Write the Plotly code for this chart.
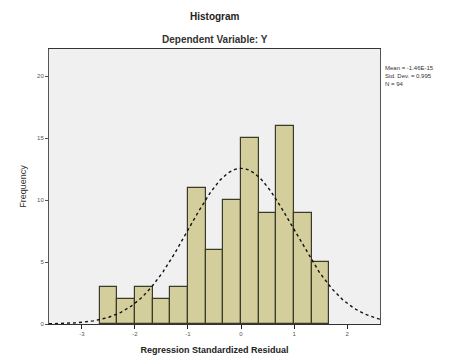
import numpy as np
import plotly.graph_objects as go

# Data
bin_width = 1 / 3
bin_lefts = [-8/3, -7/3, -2.0, -5/3, -4/3, -1.0, -2/3, -1/3, 0.0, 1/3, 2/3, 1.0, 4/3]
counts = [3, 2, 3, 2, 3, 11, 6, 10, 15, 9, 16, 9, 5]
stat_mean = 0.0
stat_sd = 0.995
stat_n = 94
x_ticks = [-3, -2, -1, 0, 1, 2]
y_ticks = [0, 5, 10, 15, 20]

centers = [b + bin_width / 2 for b in bin_lefts]

xs = np.linspace(-3.62, 2.62, 300)
ys = stat_n * bin_width * np.exp(-0.5 * ((xs - stat_mean) / stat_sd) ** 2) / (stat_sd * np.sqrt(2 * np.pi))

fig = go.Figure()
fig.add_trace(go.Bar(
    x=centers, y=counts, width=bin_width,
    marker=dict(color="#d3ce9b", line=dict(color="#3a3a2a", width=1.2)),
    hoverinfo="x+y",
))
fig.add_trace(go.Scatter(
    x=xs, y=ys, mode="lines",
    line=dict(color="#111111", width=1.4, dash="dot"),
))

fig.update_layout(
    width=450, height=360,
    margin=dict(l=49, r=70, t=49, b=36, autoexpand=False),
    paper_bgcolor="white",
    plot_bgcolor="#f0f0f0",
    showlegend=False,
    bargap=0,
    font=dict(family="Liberation Sans, Arial, sans-serif", color="#222222"),
    annotations=[
        dict(text="<b>Histogram</b>", x=0.5, xref="paper", y=1.0, yref="paper", yanchor="bottom", yshift=25,
             showarrow=False, font=dict(size=10, color="#222")),
        dict(text="<b>Dependent Variable: Y</b>", x=0.5, xref="paper", y=1.0, yref="paper", yanchor="bottom", yshift=2,
             showarrow=False, font=dict(size=10, color="#333")),
        dict(text="Mean = -1.46E-15<br>Std. Dev. = 0.995<br>N = 94",
             x=1.01, xref="paper", y=0.95, yref="paper", xanchor="left", yanchor="top",
             align="left", showarrow=False, font=dict(size=6, color="#333")),
    ],
    xaxis=dict(
        range=[-3.62, 2.62], tickvals=x_ticks, ticktext=[str(t) for t in x_ticks],
        ticks="outside", ticklen=4, tickcolor="#222", tickfont=dict(size=6, color="#555"),
        showgrid=False, zeroline=False, showline=True, linecolor="#333", linewidth=1.2,
        mirror=True, automargin=False,
        title=dict(text="<b>Regression Standardized Residual</b>", font=dict(size=9, color="#222"), standoff=10),
    ),
    yaxis=dict(
        range=[0, 22.2], tickvals=y_ticks, ticktext=[str(t) for t in y_ticks],
        ticks="outside", ticklen=3, tickcolor="#555", tickfont=dict(size=6, color="#555"),
        showgrid=False, zeroline=False, showline=True, linecolor="#555", linewidth=1,
        mirror=True, automargin=False,
        title=dict(text="Frequency", font=dict(size=9, color="#333"), standoff=8),
    ),
)

fig.write_html("out.html", config={"displayModeBar": False},
               post_script="document.body.style.margin='0';document.body.style.padding='0';")
